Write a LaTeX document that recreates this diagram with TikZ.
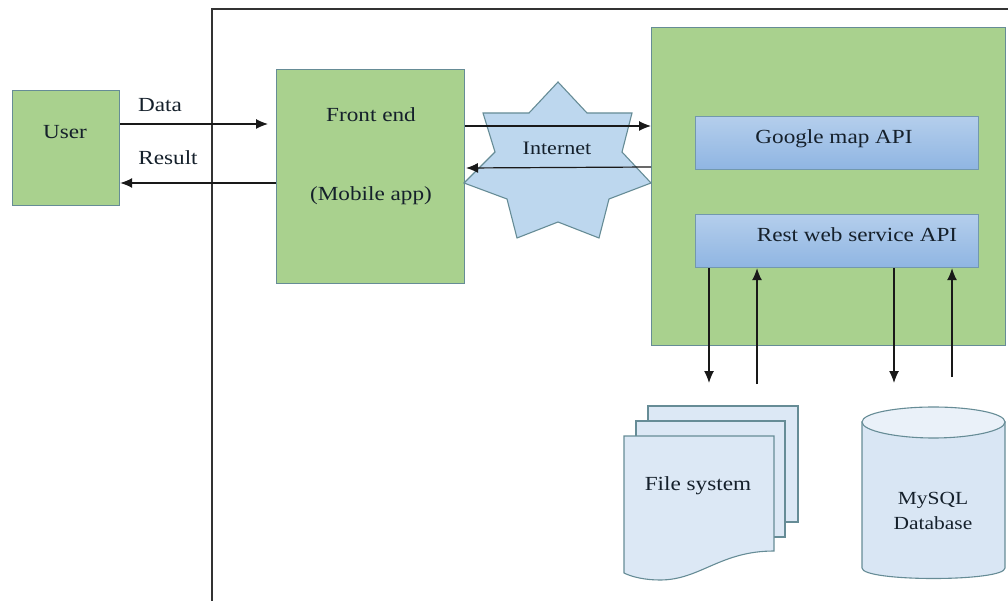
\documentclass[tikz,border=0pt]{standalone}
\usepackage{fontspec}
\setmainfont[FakeStretch=1.16]{Liberation Serif}
\usetikzlibrary{arrows.meta,calc}
\definecolor{grn}{HTML}{A9D18E}
\definecolor{edge}{HTML}{668C96}
\definecolor{lblue}{HTML}{DCE8F5}
\definecolor{sblue}{HTML}{BDD7EE}
\definecolor{apitop}{HTML}{B4CEEC}
\definecolor{apibot}{HTML}{8FB5E2}
\definecolor{txt}{HTML}{15202B}
\tikzset{
 x=1pt,y=-1pt,
 greenbox/.style={draw=edge,fill=grn,line width=1.2pt,inner sep=0pt},
 apibox/.style={draw=edge!70!apibot,line width=1.2pt,top color=apitop,bottom color=apibot,inner sep=0pt},
 shapeline/.style={draw=edge,line width=1.1pt},
 lab/.style={font=\fontsize{20}{25}\selectfont,text=txt,inner sep=0pt,align=center},
 conn/.style={draw=black!90,line width=1.2pt,-{Latex[length=12pt,width=10pt]}},
}
\begin{document}
\begin{tikzpicture}
\useasboundingbox (0,0) rectangle (1008,601);
% outer frame
\coordinate (fa) at (212,601);
\coordinate (fb) at (212,9);
\coordinate (fc) at (1008,9);
\draw[line width=1.3pt,draw=black!80] (fa) -- (fb) -- (fc);
% boxes
\node[greenbox,minimum width=107pt,minimum height=115pt,anchor=north west] (user) at (12,90) {};
\node[greenbox,minimum width=188pt,minimum height=214pt,anchor=north west] (front) at (276,69) {};
\node[greenbox,minimum width=354pt,minimum height=318pt,anchor=north west] (server) at (651,27) {};
\node[apibox,minimum width=283pt,minimum height=53pt,anchor=north west] (gmap) at (695,116) {};
\node[apibox,minimum width=283pt,minimum height=53pt,anchor=north west] (rest) at (695,214) {};
% star
\draw[shapeline,fill=sblue] (558,82) -- (587,113) -- (632,113) -- (622,152) -- (651,183) -- (609,199) -- (599,238) -- (558,222) -- (517,238) -- (507,199) -- (464,183) -- (495,152) -- (483,113) -- (529,113) -- cycle;
\node[lab,font=\fontsize{19}{23}\selectfont] (inet) at (557,148) {Internet};
% file stack
\draw[shapeline,fill=lblue] (648,406) rectangle (798,522);
\draw[shapeline,fill=lblue] (636,421) rectangle (785,537);
\draw[shapeline,fill=lblue] (624,436) -- (774,436) -- (774,551) .. controls (720,551) and (700,580) .. (660,580) .. controls (645,580) and (632,577) .. (624,573) -- cycle;
\node[lab] (fs) at (698,486) {File system};
% cylinder
\draw[shapeline,fill=lblue!90!sblue] (862,422) -- (862,568) .. controls (862,582) and (1005,582) .. (1005,568) -- (1005,422) -- cycle;
\draw[shapeline,fill=lblue!60!white] (933.5,407) .. controls (970,407) and (1005,413) .. (1005,422) .. controls (1005,431) and (970,438) .. (933.5,438) .. controls (897,438) and (862,431) .. (862,422) .. controls (862,413) and (897,407) .. (933.5,407) -- cycle;
\node[lab,font=\fontsize{18.5}{25}\selectfont] (db) at (933,511) {MySQL\\Database};
% labels
\node[lab] (ut) at (65,132) {User};
\node[lab] (fe) at (371,115) {Front end};
\node[lab] (ma) at (371,196) {(Mobile app)};
\node[lab] (gt) at (834,139) {Google map API};
\node[lab] (rt) at (857,235) {Rest web service API};
\node[lab] (dl) at (160,105) {Data};
\node[lab] (rl) at (168,158) {Result};
% free ends
\coordinate (a1) at (268,124);
\coordinate (a2) at (119,183);
\coordinate (a3) at (466,168);
\coordinate (d1) at (709,383);
\coordinate (d2) at (757,384);
\coordinate (d3) at (894,383);
\coordinate (d4) at (952,377);
% connectors
\draw[conn] (user.east |- a1) -- (a1);
\draw[conn] (front.west |- a2) -- (user.east |- a2);
\draw[conn] (front.east |- 0,126) -- (server.west |- 0,126);
\draw[conn] (server.west |- 0,167) -- (a3);
\draw[conn] (rest.south -| d1) -- (d1);
\draw[conn] (d2) -- (rest.south -| d2);
\draw[conn] (rest.south -| d3) -- (d3);
\draw[conn] (d4) -- (rest.south -| d4);
\end{tikzpicture}
\end{document}
